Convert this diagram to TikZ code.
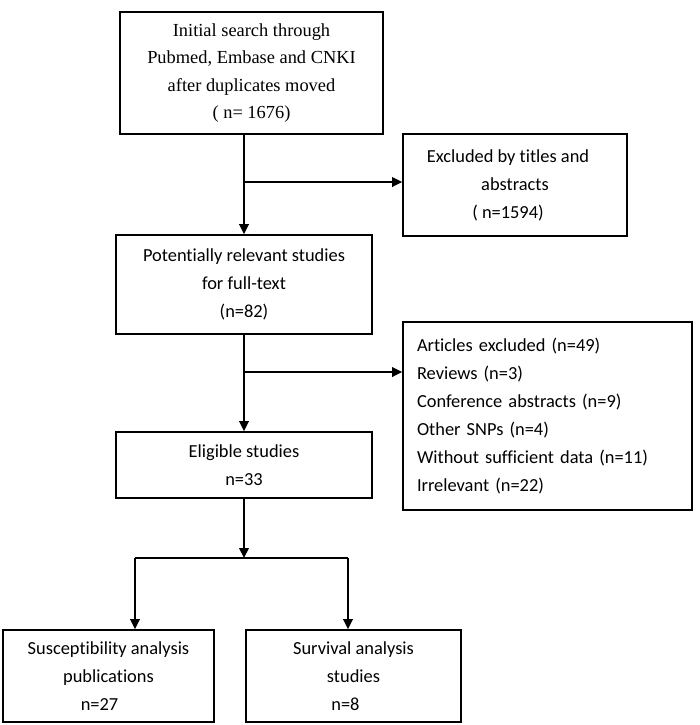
\documentclass[tikz,border=0pt]{standalone}
\usepackage{fontspec}
\setmainfont{Carlito}[Ligatures=NoCommon]
\newfontfamily\timesfont{Liberation Serif}
\usepackage{tikz}
\usetikzlibrary{positioning}
\usetikzlibrary{arrows.meta}

\begin{document}
\begin{tikzpicture}
                [x=0.5pt, y=-0.5pt,
                 box/.style = {draw, line width=0.8pt, align=center, inner sep=0pt, font=\fontsize{9.2}{14}\selectfont},
                 arr/.style = {-{Triangle[length=5pt, width=4.8pt]}, line width=0.8pt}]
                \useasboundingbox (0,0) rectangle (700,725);
                % Main column
                \node[box, minimum width=131.5pt, minimum height=61pt, font=\timesfont\fontsize{9.2}{13.8}\selectfont] (init) at (251.5,73)
                    {Initial search through\\Pubmed, Embase and CNKI\\after duplicates moved\\( n= 1676)};
                \node[box, minimum width=128pt, minimum height=49.5pt] (full) at (244,284.5)
                    {Potentially relevant studies\\for full-text\\(n=82)};
                \node[box, minimum width=128pt, minimum height=33pt] (elig) at (244,465)
                    {Eligible studies\\n=33};
                % Excluded records
                \node[box, minimum width=112pt, minimum height=51pt] (excl1) at (515,185)
                    {Excluded by titles and\hspace*{7pt}\\abstracts\hspace*{7pt}\\( n=1594)\hspace*{7pt}};
                \node[box, align=left, text width=130.5pt, inner xsep=7pt, minimum height=94pt] (excl2) at (547.5,416)
                    {Articles excluded (n=49)\\Reviews (n=3)\\Conference abstracts (n=9)\\Other SNPs (n=4)\\Without sufficient data (n=11)\\Irrelevant (n=22)};
                % Final groups
                \node[box, minimum width=105.5pt, minimum height=46pt] (susc) at (108.5,676)
                    {Susceptibility analysis\\publications\\n=27\hspace*{9pt}};
                \node[box, minimum width=107.5pt, minimum height=46pt] (surv) at (353.5,676)
                    {Survival analysis\\studies\\n=8\hspace*{8pt}};

                % Junctions
                \coordinate (j1) at (244,182);
                \coordinate (j2) at (244,372);
                \coordinate (split) at (244,558);
                \coordinate (sl) at (135,558);
                \coordinate (sr) at (348,558);

                % Lines
                \draw[arr] (init.south -| full.north) -- (full.north);
                \draw[arr] (j1) -- (j1 -| excl1.west);
                \draw[arr] (full) -- (elig);
                \draw[arr] (j2) -- (j2 -| excl2.west);
                \draw[arr] (elig) -- (split);
                \draw[line width=0.8pt] (sl) -- (sr);
                \draw[arr] (sl) -- (sl |- susc.north);
                \draw[arr] (sr) -- (sr |- surv.north);
            \end{tikzpicture}
\end{document}
